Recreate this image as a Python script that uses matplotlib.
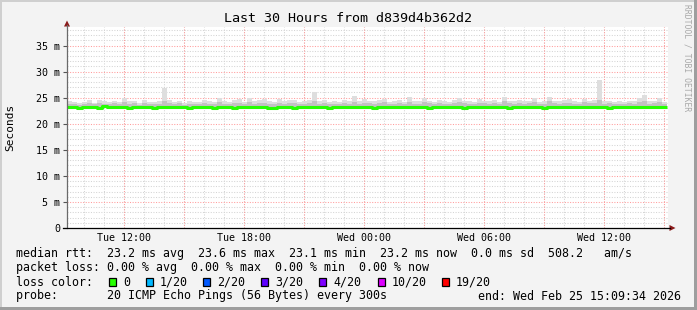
import numpy as np
import matplotlib
matplotlib.use("Agg")
import matplotlib.pyplot as plt
from matplotlib.patches import Rectangle, Polygon
from matplotlib.lines import Line2D

# ---------------- data ----------------
# 15-minute bins starting Tue 09:09:34 (hours from window start)
bin_hours = 0.25
median_ms = [
    23.2, 23.2, 23.1, 23.2, 23.2, 23.2, 23.1, 23.4, 23.2, 23.2,
    23.2, 23.2, 23.1, 23.2, 23.2, 23.2, 23.2, 23.1, 23.2, 23.2,
    23.2, 23.3, 23.2, 23.2, 23.1, 23.2, 23.2, 23.2, 23.2, 23.1,
    23.2, 23.2, 23.2, 23.1, 23.2, 23.2, 23.2, 23.2, 23.3, 23.2,
    23.1, 23.1, 23.2, 23.2, 23.2, 23.1, 23.2, 23.2, 23.2, 23.2,
    23.2, 23.2, 23.1, 23.2, 23.2, 23.3, 23.2, 23.2, 23.2, 23.2,
    23.2, 23.1, 23.2, 23.2, 23.2, 23.2, 23.2, 23.3, 23.2, 23.2,
    23.2, 23.2, 23.1, 23.2, 23.2, 23.2, 23.2, 23.2, 23.2, 23.1,
    23.2, 23.2, 23.2, 23.2, 23.3, 23.2, 23.2, 23.2, 23.1, 23.2,
    23.2, 23.2, 23.2, 23.2, 23.2, 23.1, 23.2, 23.2, 23.2, 23.2,
    23.2, 23.2, 23.3, 23.2, 23.2, 23.2, 23.2, 23.2, 23.1, 23.2,
    23.2, 23.2, 23.2, 23.3, 23.2, 23.2, 23.2, 23.2, 23.2, 23.2,
]
mid_ms = [
    23.8, 23.7, 23.6, 23.8, 23.9, 23.7, 24.0, 23.8, 23.7, 23.9,
    23.7, 24.1, 23.8, 23.9, 23.6, 24.0, 23.8, 23.7, 23.8, 24.3,
    23.9, 23.7, 23.9, 23.6, 23.8, 23.7, 23.7, 23.9, 23.8, 23.7,
    24.1, 23.8, 23.7, 23.9, 24.0, 23.7, 24.2, 23.8, 23.9, 24.0,
    23.8, 23.7, 24.0, 23.8, 23.9, 23.9, 23.7, 23.8, 23.9, 24.4,
    23.8, 24.0, 23.7, 23.8, 23.7, 23.9, 23.8, 24.2, 23.8, 24.0,
    23.9, 23.8, 23.9, 24.1, 23.7, 23.8, 23.9, 23.7, 24.2, 23.8,
    23.8, 24.1, 23.9, 23.7, 24.0, 23.8, 23.7, 23.9, 24.2, 23.9,
    23.8, 23.7, 24.0, 23.9, 23.8, 23.9, 23.7, 24.3, 23.9, 23.8,
    23.9, 23.8, 23.9, 24.2, 23.7, 23.8, 24.3, 23.9, 23.8, 23.9,
    24.0, 23.8, 23.7, 24.1, 23.9, 24.0, 24.6, 23.8, 23.9, 23.7,
    23.8, 23.7, 23.9, 23.8, 24.2, 24.4, 23.8, 23.9, 24.1, 23.7,
]
max_ms = [
    24.3, 24.1, 23.9, 24.2, 24.5, 24.0, 24.6, 24.3, 24.1, 24.4,
    24.2, 25.0, 24.3, 24.4, 23.9, 24.6, 24.2, 24.1, 24.3, 26.9,
    24.5, 24.2, 24.4, 24.0, 24.3, 24.1, 24.2, 24.5, 24.3, 24.1,
    25.0, 24.3, 24.2, 24.6, 24.8, 24.1, 25.0, 24.3, 24.5, 24.7,
    24.4, 24.2, 24.8, 24.3, 24.6, 24.5, 24.2, 24.4, 24.6, 26.0,
    24.3, 24.6, 24.2, 24.4, 24.1, 24.5, 24.3, 25.3, 24.4, 24.7,
    24.4, 24.3, 24.5, 24.8, 24.2, 24.3, 24.5, 24.2, 25.1, 24.3,
    24.3, 24.9, 24.4, 24.2, 24.6, 24.3, 24.2, 24.5, 25.0, 24.4,
    24.3, 24.2, 24.7, 24.4, 24.3, 24.5, 24.2, 25.1, 24.4, 24.3,
    24.5, 24.3, 24.4, 25.0, 24.2, 24.3, 25.1, 24.4, 24.3, 24.5,
    24.7, 24.3, 24.2, 24.8, 24.4, 24.6, 28.3, 24.3, 24.4, 24.2,
    24.3, 24.2, 24.4, 24.3, 25.0, 25.5, 24.3, 24.4, 24.9, 24.2,
]
xtick_labels = ["Tue 12:00", "Tue 18:00", "Wed 00:00", "Wed 06:00", "Wed 12:00"]
xtick_hours = [2.8406, 8.8406, 14.8406, 20.8406, 26.8406]
ytick_vals = [0, 5, 10, 15, 20, 25, 30, 35]
ytick_labels = ["0", "5 m", "10 m", "15 m", "20 m", "25 m", "30 m", "35 m"]
loss_labels = ["0", "1/20", "2/20", "3/20", "4/20", "10/20", "19/20"]
loss_colors = ["#26ff00", "#00b8ff", "#0059ff", "#5e00ff", "#7e00ff", "#dd00ff", "#ff0000"]

W, H = 697, 310
MONO = "DejaVu Sans Mono"

fig = plt.figure(figsize=(W / 100, H / 100), dpi=100)
fig.patch.set_facecolor("#f3f3f3")

def fx(x):
    return x / W

def fy(y):
    return 1 - y / H

# frame
fig.add_artist(Rectangle((0, fy(2)), 1, 2 / H, transform=fig.transFigure, color="#cfcfcf", lw=0))
fig.add_artist(Rectangle((0, 0), 2 / W, 1, transform=fig.transFigure, color="#cfcfcf", lw=0))
fig.add_artist(Rectangle((fx(694), 0), 3 / W, 1, transform=fig.transFigure, color="#9e9e9e", lw=0))
fig.add_artist(Rectangle((0, 0), 1, 3 / H, transform=fig.transFigure, color="#9e9e9e", lw=0))

ax_l, ax_r, ax_t, ax_b = 67, 668, 27, 228
ax = fig.add_axes([fx(ax_l), fy(ax_b), (ax_r - ax_l) / W, (ax_b - ax_t) / H])
ax.set_facecolor("white")
ax.set_xlim(0, 30.05)
ax.set_ylim(0, 38.55)
for s in ax.spines.values():
    s.set_visible(False)

# grid
dot = (0, (1, 1.5))
for h in np.arange(0.8406, 30.05, 1.0):
    ax.axvline(h, color="#d4d4d4", lw=0.75, ls=dot, zorder=1)
for v in np.arange(1, 38.6, 1.0):
    if v % 5:
        ax.axhline(v, color="#d4d4d4", lw=0.75, ls=dot, zorder=1)
for h in np.arange(2.8406, 30.05, 3.0):
    ax.axvline(h, color="#ff9c9c", lw=0.75, ls=dot, zorder=1.5)
for v in range(5, 39, 5):
    ax.axhline(v, color="#ff9c9c", lw=0.75, ls=dot, zorder=1.5)

# smoke
x = np.arange(len(median_ms)) * bin_hours
med = np.array(median_ms)
ax.bar(x, np.array(max_ms) - med, bottom=med, width=bin_hours, align="edge",
       color="#dedede", lw=0, zorder=2)
ax.bar(x, np.array(mid_ms) - med, bottom=med, width=bin_hours, align="edge",
       color="#c2c2c2", lw=0, zorder=2.1)
ax.step(np.append(x, x[-1] + bin_hours), np.append(med, med[-1]), where="post",
        color="#26ff00", lw=2.2, zorder=3, solid_capstyle="butt")

# ticks
ax.set_xticks(xtick_hours)
ax.set_xticklabels(xtick_labels, fontfamily=MONO, fontsize=7.2)
ax.tick_params(axis="x", length=0, pad=3.5)
ax.set_yticks(ytick_vals)
ax.set_yticklabels(ytick_labels, fontfamily=MONO, fontsize=7.2)
ax.tick_params(axis="y", length=3, width=0.8, color="#555555", pad=2)

# axes lines + arrows
fig.add_artist(Line2D([fx(67), fx(67)], [fy(228), fy(25)], transform=fig.transFigure,
                      color="#6a6a6a", lw=0.9))
fig.add_artist(Line2D([fx(63), fx(670)], [fy(228), fy(228)], transform=fig.transFigure,
                      color="black", lw=0.9))
fig.add_artist(Polygon([(fx(64), fy(26.5)), (fx(70), fy(26.5)), (fx(67), fy(20.5))],
                       closed=True, transform=fig.transFigure, color="#8b1a1a", lw=0))
fig.add_artist(Polygon([(fx(669.5), fy(225)), (fx(669.5), fy(231)), (fx(675.5), fy(228))],
                       closed=True, transform=fig.transFigure, color="#8b1a1a", lw=0))

# title and labels
fig.text(fx(348), fy(19), "Last 30 Hours from d839d4b362d2", ha="center", va="center",
         fontfamily=MONO, fontsize=9.6)
fig.text(fx(10.5), fy(127.5), "Seconds", ha="center", va="center", rotation=90,
         fontfamily=MONO, fontsize=8.0)
fig.text(fx(687.5), fy(4), "RRDTOOL / TOBI OETIKER", ha="center", va="top", rotation=270,
         fontfamily=MONO, fontsize=5.8, color="#a8a8a8")

# legend
LS = 8.4
rows = [
    (254, "median rtt:  23.2 ms avg  23.6 ms max  23.1 ms min  23.2 ms now  0.0 ms sd  508.2   am/s"),
    (268, "packet loss: 0.00 % avg  0.00 % max  0.00 % min  0.00 % now"),
    (282, "loss color:"),
    (296, "probe:       20 ICMP Echo Pings (56 Bytes) every 300s"),
]
for y, t in rows:
    fig.text(fx(16), fy(y), t, ha="left", va="center", fontfamily=MONO, fontsize=LS)
fig.text(fx(478), fy(296), "end: Wed Feb 25 15:09:34 2026", ha="left", va="center",
         fontfamily=MONO, fontsize=LS)

box_x = [109, 146, 203, 261, 319, 378, 442]
for bx, lab, col in zip(box_x, loss_labels, loss_colors):
    fig.add_artist(Rectangle((fx(bx), fy(286)), 7 / W, 8 / H, transform=fig.transFigure,
                             facecolor=col, edgecolor="black", lw=0.9))
    fig.text(fx(bx + 14), fy(282), lab, ha="left", va="center", fontfamily=MONO, fontsize=LS)

fig.savefig("out.png", dpi=100, facecolor=fig.get_facecolor())
